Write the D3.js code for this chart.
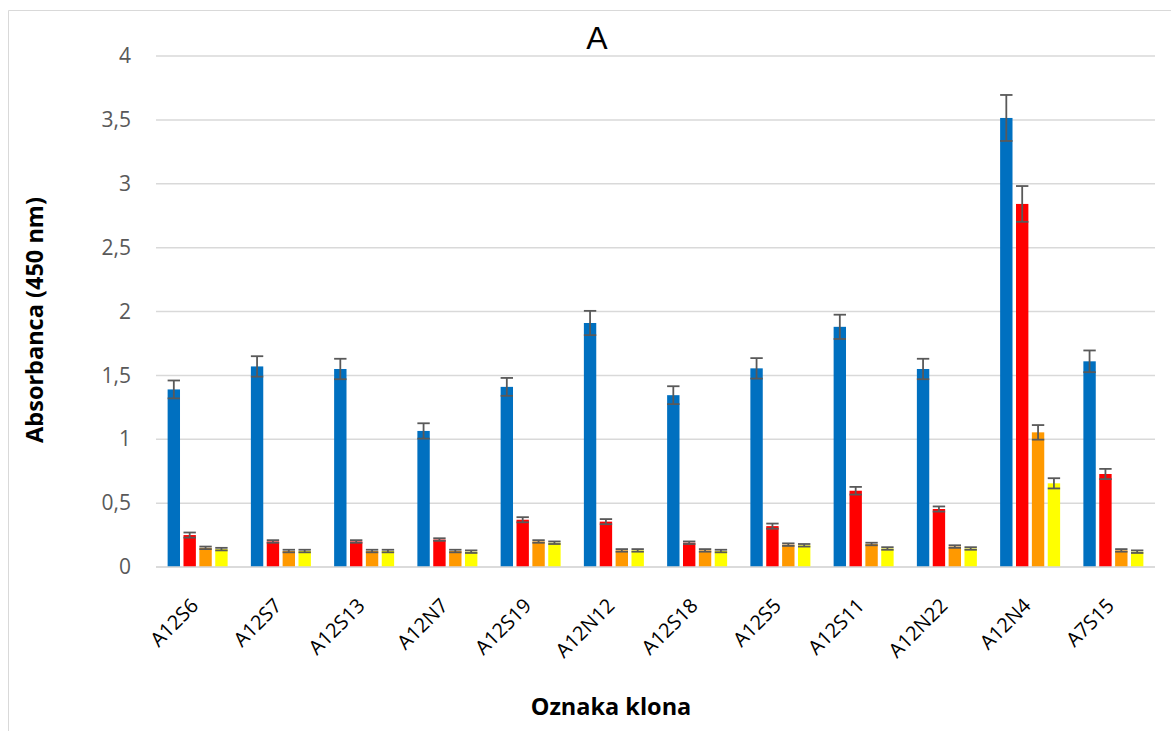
<!DOCTYPE html>
<html>
<head>
<meta charset="utf-8">
<script src="https://cdn.jsdelivr.net/npm/d3@7"></script>
<style>
  html, body { margin: 0; padding: 0; background: #fff; }
  svg { display: block; }
</style>
</head>
<body>
<svg id="chart" width="1171" height="731"></svg>
<script>
// Clone labels along the x axis
const clones = ["A12S6", "A12S7", "A12S13", "A12N7", "A12S19", "A12N12",
                "A12S18", "A12S5", "A12S11", "A12N22", "A12N4", "A7S15"];

// Absorbance at 450 nm for the four measurements of each clone
const seriesBlue   = [1.39, 1.57, 1.55, 1.065, 1.41, 1.91, 1.345, 1.555, 1.88, 1.55, 3.515, 1.61];
const seriesRed    = [0.25, 0.20, 0.20, 0.215, 0.37, 0.355, 0.19, 0.32, 0.597, 0.454, 2.842, 0.728];
const seriesOrange = [0.15, 0.125, 0.125, 0.125, 0.20, 0.13, 0.13, 0.175, 0.18, 0.16, 1.054, 0.13];
const seriesYellow = [0.14, 0.125, 0.125, 0.12, 0.19, 0.13, 0.125, 0.17, 0.145, 0.145, 0.655, 0.12];

// Standard deviations shown as error bars
const errBlue   = [0.07, 0.08, 0.08, 0.06, 0.07, 0.095, 0.07, 0.08, 0.095, 0.08, 0.18, 0.085];
const errRed    = [0.02, 0.01, 0.01, 0.01, 0.02, 0.02, 0.01, 0.02, 0.03, 0.02, 0.14, 0.04];
const errOrange = [0.01, 0.01, 0.01, 0.01, 0.01, 0.01, 0.01, 0.01, 0.01, 0.01, 0.057, 0.01];
const errYellow = [0.01, 0.01, 0.01, 0.01, 0.01, 0.01, 0.01, 0.01, 0.01, 0.01, 0.04, 0.01];

const yTicks = [0, 0.5, 1, 1.5, 2, 2.5, 3, 3.5, 4];
const seriesColors = ["#0070c0", "#ff0000", "#ff9900", "#ffff00"];

const series = [
  { values: seriesBlue,   errors: errBlue,   color: seriesColors[0] },
  { values: seriesRed,    errors: errRed,    color: seriesColors[1] },
  { values: seriesOrange, errors: errOrange, color: seriesColors[2] },
  { values: seriesYellow, errors: errYellow, color: seriesColors[3] }
];

const svg = d3.select("#chart");
const plot = { left: 156, right: 1155, top: 56, bottom: 567 };

// Outer chart frame (top and left edges)
svg.append("path")
  .attr("d", `M8.5,731 V10.5 H1171`)
  .attr("fill", "none")
  .attr("stroke", "#d9d9d9")
  .attr("stroke-width", 1);

const x = d3.scaleBand()
  .domain(clones)
  .range([plot.left, plot.right])
  .paddingInner(0).paddingOuter(0);

const y = d3.scaleLinear()
  .domain([0, 4])
  .range([plot.bottom, plot.top]);

// Inner band for the four bars within a clone group
const groupWidth = 60;
const xs = d3.scaleBand()
  .domain(d3.range(series.length))
  .range([0, groupWidth])
  .paddingInner(0.22);

const tickFont = "'Open Sans', 'DejaVu Sans', sans-serif";

// Horizontal gridlines
svg.append("g")
  .selectAll("line")
  .data(yTicks)
  .join("line")
  .attr("x1", plot.left)
  .attr("x2", plot.right)
  .attr("y1", d => y(d))
  .attr("y2", d => y(d))
  .attr("stroke", "#d9d9d9")
  .attr("stroke-width", 1.5);

// Y axis tick labels
const yAxis = d3.axisLeft(y)
  .tickValues(yTicks)
  .tickSize(0)
  .tickPadding(0)
  .tickFormat(d => String(d).replace(".", ","));

svg.append("g")
  .attr("transform", `translate(131,0)`)
  .call(yAxis)
  .call(g => g.select(".domain").remove())
  .call(g => g.selectAll("text")
    .attr("fill", "#595959")
    .style("font-family", tickFont)
    .style("font-size", "21px"));

// Bars
const groups = svg.append("g")
  .selectAll("g")
  .data(clones)
  .join("g")
  .attr("transform", d => `translate(${x(d) + (x.bandwidth() - groupWidth) / 2},0)`);

series.forEach((s, si) => {
  groups.append("rect")
    .attr("x", xs(si))
    .attr("width", xs.bandwidth())
    .attr("y", (d, i) => y(s.values[i]))
    .attr("height", (d, i) => y(0) - y(s.values[i]))
    .attr("fill", s.color);
});

// Error bars
series.forEach((s, si) => {
  const cx = xs(si) + xs.bandwidth() / 2;
  const half = xs.bandwidth() / 2;
  const eb = groups.append("g")
    .attr("stroke", "#595959")
    .attr("stroke-width", 1.8);
  eb.append("line")
    .attr("x1", cx).attr("x2", cx)
    .attr("y1", (d, i) => y(s.values[i] + s.errors[i]))
    .attr("y2", (d, i) => y(s.values[i] - s.errors[i]));
  eb.append("line")
    .attr("x1", cx - half).attr("x2", cx + half)
    .attr("y1", (d, i) => y(s.values[i] + s.errors[i]))
    .attr("y2", (d, i) => y(s.values[i] + s.errors[i]));
  eb.append("line")
    .attr("x1", cx - half).attr("x2", cx + half)
    .attr("y1", (d, i) => y(s.values[i] - s.errors[i]))
    .attr("y2", (d, i) => y(s.values[i] - s.errors[i]));
});

// X axis baseline
svg.append("line")
  .attr("x1", plot.left).attr("x2", plot.right)
  .attr("y1", y(0)).attr("y2", y(0))
  .attr("stroke", "#d9d9d9")
  .attr("stroke-width", 1.5);

// Rotated clone labels
const xAxis = d3.axisBottom(x).tickSize(0).tickPadding(0);
svg.append("g")
  .attr("transform", `translate(0,${plot.bottom})`)
  .call(xAxis)
  .call(g => g.select(".domain").remove())
  .call(g => g.selectAll("text")
    .attr("fill", "#000")
    .attr("text-anchor", "end")
    .attr("dy", null)
    .attr("y", 0)
    .attr("transform", "translate(2,40) rotate(-45)")
    .style("font-family", tickFont)
    .style("font-size", "20px"));

// Chart title
svg.append("text")
  .attr("x", 597)
  .attr("y", 49)
  .attr("text-anchor", "middle")
  .style("font-family", "'Liberation Sans', Arial, sans-serif")
  .style("font-size", "32px")
  .attr("fill", "#000")
  .text("A");

// Axis titles
svg.append("text")
  .attr("x", 611)
  .attr("y", 715)
  .attr("text-anchor", "middle")
  .style("font-family", tickFont)
  .style("font-weight", "bold")
  .style("font-size", "23.5px")
  .attr("fill", "#000")
  .text("Oznaka klona");

svg.append("text")
  .attr("transform", "translate(43,320) rotate(-90)")
  .attr("text-anchor", "middle")
  .style("font-family", tickFont)
  .style("font-weight", "bold")
  .style("font-size", "23.5px")
  .attr("fill", "#000")
  .text("Absorbanca (450 nm)");
</script>
</body>
</html>
